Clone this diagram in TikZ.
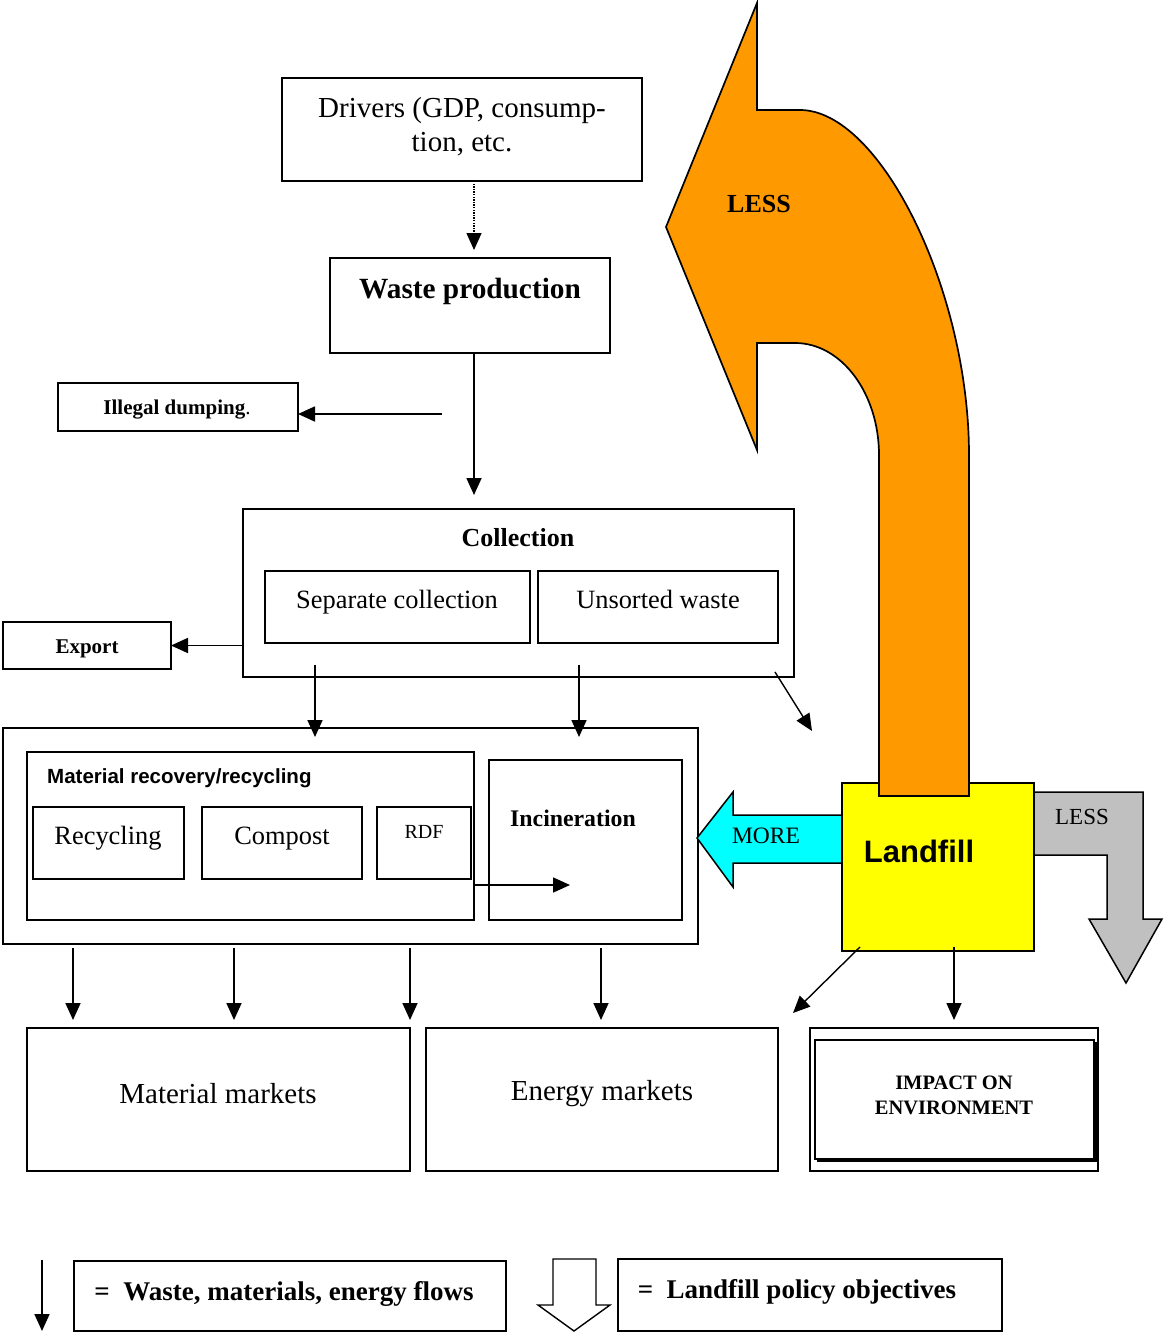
\documentclass[tikz,border=0pt]{standalone}
\usepackage{fontspec}
\setmainfont{Liberation Serif}
\newfontfamily\arialf{Liberation Sans}
\usetikzlibrary{arrows.meta}
\definecolor{orangeA}{HTML}{FF9900}
\definecolor{greyA}{HTML}{C0C0C0}
\definecolor{cyanA}{HTML}{00FFFF}
\definecolor{yellowA}{HTML}{FFFF00}
\begin{document}
\begin{tikzpicture}[x=1pt,y=-1pt,
  box/.style={draw, line width=1.8pt, inner sep=0pt, outer sep=0pt},
  txt/.style={inner sep=0pt, anchor=base},
  flow/.style={line width=1.7pt, -{Triangle[length=17pt,width=15pt]}},
  fnt/.style={font=\fontsize{#1}{#1}\selectfont},
  bfnt/.style={font=\fontsize{#1}{#1}\selectfont\bfseries},
  afnt/.style={font=\fontsize{#1}{#1}\selectfont\arialf\bfseries},
]
\useasboundingbox (0,0) rectangle (1163,1336);

% ---------- top boxes ----------
\node[box, minimum width=360pt, minimum height=103pt] (drivers) at (462,129.5) {};
\node[txt, fnt=29] (drv1) at (462,117) {Drivers (GDP, consump-};
\node[txt, fnt=29] (drv2) at (462,151) {tion, etc.};

\node[box, minimum width=280pt, minimum height=95pt] (wp) at (470,305.5) {};
\node[txt, bfnt=29.3] (wpt) at (470,298) {Waste production};

\node[box, minimum width=240pt, minimum height=48pt] (illegal) at (178,407) {};
\node[txt, bfnt=21] (illt) at (177,414) {Illegal dumping\textmd{.}};

% ---------- collection ----------
\node[box, minimum width=551pt, minimum height=168pt] (coll) at (518.5,593) {};
\node[txt, bfnt=26] (collt) at (518,546) {Collection};
\node[box, minimum width=265pt, minimum height=72pt] (sep) at (397.5,607) {};
\node[txt, fnt=26.4] (sept) at (397,608) {Separate collection};
\node[box, minimum width=240pt, minimum height=72pt] (uns) at (658,607) {};
\node[txt, fnt=26.4] (unst) at (658,608) {Unsorted waste};

\node[box, minimum width=168pt, minimum height=47pt] (export) at (87,645.5) {};
\node[txt, bfnt=21] (expt) at (87,653) {Export};

% ---------- recovery ----------
\node[box, minimum width=695pt, minimum height=216pt] (recov) at (350.5,836) {};
\node[box, minimum width=447pt, minimum height=168pt] (mat) at (250.5,836) {};
\node[inner sep=0pt, anchor=base west, afnt=20.5] (matt) at (47,783) {Material recovery/recycling};
\node[box, minimum width=151pt, minimum height=72pt] (recyc) at (108.5,843) {};
\node[txt, fnt=26.4] (recyct) at (108,844) {Recycling};
\node[box, minimum width=160pt, minimum height=72pt] (compost) at (282,843) {};
\node[txt, fnt=26.4] (compt) at (282,844) {Compost};
\node[box, minimum width=94pt, minimum height=72pt] (rdf) at (424,843) {};
\node[txt, fnt=20] (rdft) at (424,838) {RDF};
\node[box, minimum width=193pt, minimum height=160pt] (incin) at (585.5,840) {};
\node[txt, bfnt=23.8] (incint) at (573,826) {Incineration};

% ---------- markets ----------
\node[box, minimum width=383pt, minimum height=143pt] (matmk) at (218.5,1099.5) {};
\node[txt, fnt=29] (matmkt) at (218,1103) {Material markets};
\node[box, minimum width=352pt, minimum height=143pt] (enmk) at (602,1099.5) {};
\node[txt, fnt=29] (enmkt) at (602,1100) {Energy markets};
\node[box, line width=1.4pt, minimum width=288pt, minimum height=143pt] (impo) at (954,1099.5) {};
\node[box, minimum width=279pt, minimum height=119pt] (impi) at (954.5,1099.5) {};
\draw[line width=1.8pt] ([xshift=1.6pt,yshift=-1.6pt]impi.north east) -- ([xshift=1.6pt,yshift=-1.6pt]impi.south east) -- ([xshift=1.6pt,yshift=-1.6pt]impi.south west);
\node[txt, bfnt=20.5] (impt1) at (954,1089) {IMPACT ON};
\node[txt, bfnt=20.5] (impt2) at (954,1114) {ENVIRONMENT};

% ---------- landfill and policy arrows ----------
\filldraw[fill=cyanA, draw=black, line width=1.5pt]
  (842,815) -- (733,815) -- (733,792) -- (697,838) -- (733,887) -- (733,863) -- (842,863) -- cycle;
\node[txt, fnt=23.5] (moret) at (766,843) {MORE};
\filldraw[fill=greyA, draw=black, line width=1.5pt]
  (1034,792) -- (1143,792) -- (1143,919) -- (1162,919) -- (1126,983) -- (1089,919) -- (1107,919) -- (1107,855) -- (1034,855) -- cycle;
\node[txt, fnt=23] (lesst2) at (1082,824) {LESS};
\node[box, fill=yellowA, minimum width=192pt, minimum height=168pt] (landfill) at (938,867) {};
\node[txt, afnt=31] (landt) at (919,862) {Landfill};
\filldraw[fill=orangeA, draw=black, line width=1.7pt]
  (879,796) -- (879,455) .. controls (879,394) and (842,343) .. (795,343)
  -- (757,343) -- (757,450) -- (666,227) -- (757,3) -- (757,110) -- (800,110)
  .. controls (880,110) and (969,290) .. (969,455) -- (969,796) -- cycle;
\node[txt, bfnt=26] (lesst1) at (759,212) {LESS};

% ---------- flow connectors ----------
\coordinate (d1) at (474,181);
\draw[line width=1.3pt, dash pattern=on 1.3pt off 1.3pt, -{Triangle[length=17pt,width=15pt]}, shorten >=8pt] (d1) -- (d1 |- wp.north);
\coordinate (w1) at (474,353);
\draw[flow, shorten >=14pt] (w1) -- (w1 |- coll.north);
\coordinate (dumpsrc) at (442,414);
\draw[flow] (dumpsrc) -- (illegal.east |- dumpsrc);
\draw[flow] (coll.west |- export.east) -- (export.east);
\coordinate (c1) at (315,665);
\coordinate (c2) at (579,665);
\draw[flow] (c1) -- ([yshift=-9pt]c1 |- recov.north);
\draw[flow] (c2) -- ([yshift=-9pt]c2 |- recov.north);
\coordinate (c3) at (775,672);
\coordinate (c3e) at (812,731);
\draw[flow, line width=1.4pt] (c3) -- (c3e);
\coordinate (r1) at (474,885);
\coordinate (r1e) at (570,885);
\draw[flow] (r1) -- (r1e);
\foreach \xx/\nm in {73/a,234/b,410/c,601/d}{
  \coordinate (m\nm) at (\xx,948);
  \draw[flow] (m\nm) -- ([yshift=8pt]m\nm |- matmk.north);
}
\coordinate (l1) at (860,947);
\coordinate (l1e) at (793,1013);
\draw[flow, line width=1.4pt] (l1) -- (l1e);
\coordinate (l2) at (954,947);
\draw[flow] (l2) -- ([yshift=8pt]l2 |- impo.north);

% ---------- legend ----------
\coordinate (lg1) at (42,1260);
\coordinate (lg1e) at (42,1331);
\draw[flow] (lg1) -- (lg1e);
\node[box, minimum width=432pt, minimum height=70pt] (leg1) at (290,1296) {};
\node[txt, bfnt=27] (leg1t) at (284,1300) {=~~Waste, materials, energy flows};
\draw[line width=1.4pt, fill=white] (553,1259) -- (596,1259) -- (596,1305) -- (610,1305) -- (574,1331) -- (538,1305) -- (553,1305) -- cycle;
\node[box, minimum width=384pt, minimum height=72pt] (leg2) at (810,1295) {};
\node[txt, bfnt=27] (leg2t) at (797,1298) {=~~Landfill policy objectives};
\end{tikzpicture}
\end{document}
